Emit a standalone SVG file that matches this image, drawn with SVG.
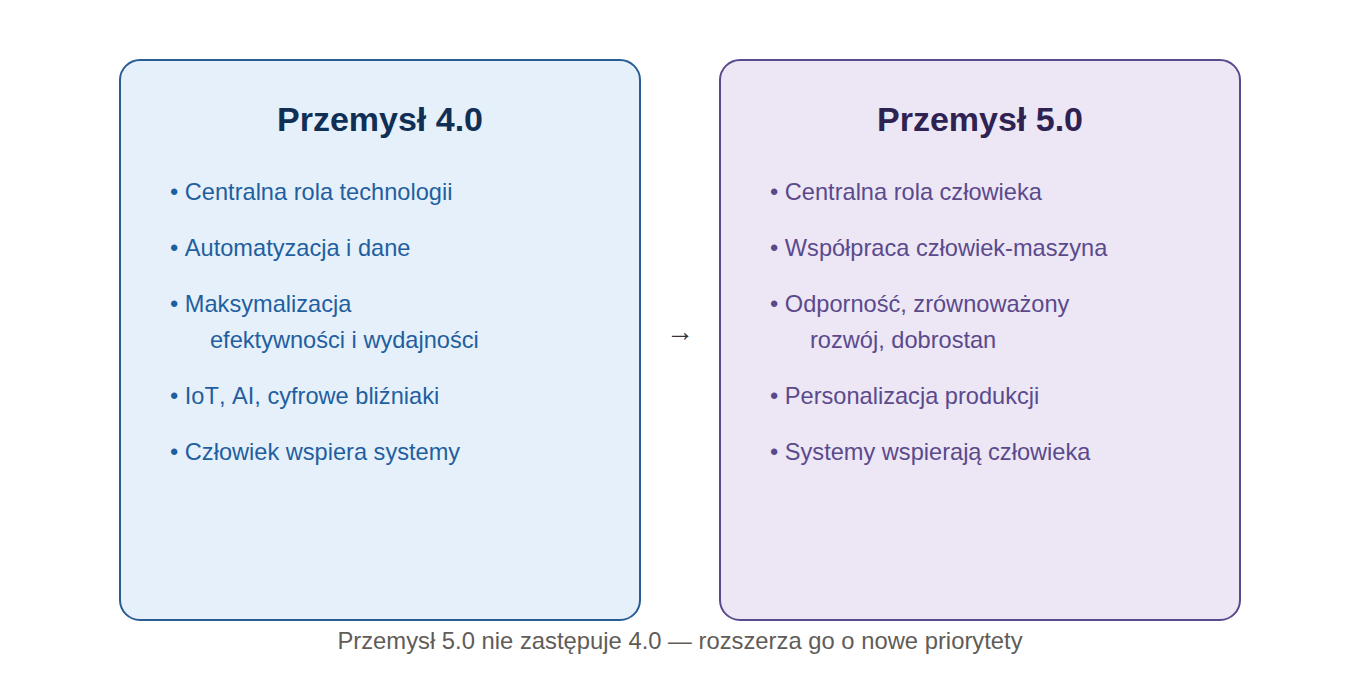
<svg xmlns="http://www.w3.org/2000/svg" width="1360" height="680" viewBox="0 0 1360 680">
<style>
text{font-family:"Liberation Sans",Arial,sans-serif;font-kerning:none}
.box{stroke-width:2}
.title{font-size:34px;font-weight:bold;text-anchor:middle}
.item{font-size:23.6px}
.l .box{fill:#e6f0fa;stroke:#2a5d94}
.l .title{fill:#0f2f55}
.l .item{fill:#1f5fa0}
.r .box{fill:#ede6f5;stroke:#5b4a8b}
.r .title{fill:#2d2252}
.r .item{fill:#5a4a8c}
.foot{font-size:23.8px;fill:#615c58;text-anchor:middle}
.arrow{font-size:28px;fill:#333;text-anchor:middle}
</style>
<rect width="1360" height="680" fill="#fff"/>
<g id="przemysl40" class="l">
<rect class="box" x="120" y="60" width="520" height="560" rx="20"/>
<text class="title" x="380" y="131">Przemysł 4.0</text>
<text class="item" x="170" y="200">• Centralna rola technologii</text>
<text class="item" x="170" y="256">• Automatyzacja i dane</text>
<text class="item" x="170" y="312">• Maksymalizacja</text>
<text class="item" x="210" y="348">efektywności i wydajności</text>
<text class="item" x="170" y="404">• IoT, AI, cyfrowe bliźniaki</text>
<text class="item" x="170" y="460">• Człowiek wspiera systemy</text>
</g>
<g id="przemysl50" class="r">
<rect class="box" x="720" y="60" width="520" height="560" rx="20"/>
<text class="title" x="980" y="131">Przemysł 5.0</text>
<text class="item" x="770" y="200">• Centralna rola człowieka</text>
<text class="item" x="770" y="256">• Współpraca człowiek-maszyna</text>
<text class="item" x="770" y="312">• Odporność, zrównoważony</text>
<text class="item" x="810" y="348">rozwój, dobrostan</text>
<text class="item" x="770" y="404">• Personalizacja produkcji</text>
<text class="item" x="770" y="460">• Systemy wspierają człowieka</text>
</g>
<g id="connectors">
<text class="arrow" x="680" y="341">→</text>
</g>
<text class="foot" x="680" y="649">Przemysł 5.0 nie zastępuje 4.0 — rozszerza go o nowe priorytety</text>
</svg>
